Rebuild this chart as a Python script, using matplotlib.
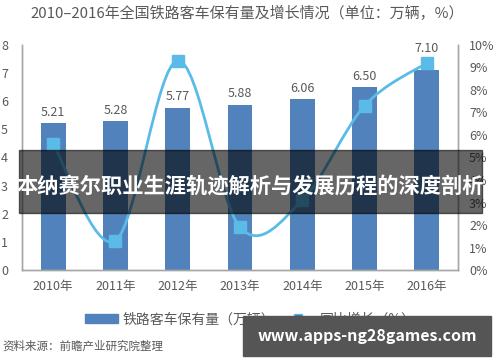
import matplotlib.pyplot as plt
from matplotlib.path import Path
from matplotlib.patches import PathPatch, Rectangle
from matplotlib.lines import Line2D
import numpy as np

plt.rcParams['font.family'] = ['Noto Sans CJK SC', 'DejaVu Sans']

# datos
years = ['2010年', '2011年', '2012年', '2013年', '2014年', '2015年', '2016年']
stock = [5.21, 5.28, 5.77, 5.88, 6.06, 6.50, 7.10]
growth = [5.6, 1.3, 9.3, 1.9, 3.1, 7.3, 9.2]

bar_color = '#5282bc'
line_color = '#5bbbe8'
gray = '#595959'

fig = plt.figure(figsize=(5, 3.62), dpi=100)
ax = fig.add_axes([0.044, 0.254, 0.872, 0.622])
ax2 = ax.twinx()

x = np.arange(len(years))
ax.bar(x, stock, width=0.4, color=bar_color, zorder=2)
for xi, v in zip(x, stock):
    # la última etiqueta va más arriba para no chocar con el marcador
    off = 0.55 if xi == len(stock) - 1 else 0.15
    ax.text(xi, v + off, f'{v:.2f}', ha='center', va='bottom', fontsize=9, color=gray)

ax.set_xlim(-0.5, 6.5)
ax.set_ylim(0, 8)
ax.set_yticks(range(0, 9))
ax.set_xticks(x)
ax.set_xticklabels(years)
ax.tick_params(axis='y', length=0, labelsize=9, labelcolor=gray, pad=10)
ax.tick_params(axis='x', length=0, labelsize=9, labelcolor=gray, pad=7)

ax2.set_ylim(0, 10)
ax2.set_yticks(range(0, 11))
ax2.set_yticklabels([f'{i}%' for i in range(0, 11)])
ax2.tick_params(axis='y', length=0, labelsize=9, labelcolor=gray, pad=8)

for a in (ax, ax2):
    a.spines['top'].set_visible(False)
    for s in ('left', 'right', 'bottom'):
        a.spines[s].set_color('#a6a6a6')
        a.spines[s].set_linewidth(1)

# curva suavizada (bezier entre los puntos)
pts = list(zip(x, growth))
verts = [pts[0]]
codes = [Path.MOVETO]
for i in range(len(pts) - 1):
    p0 = pts[i - 1] if i > 0 else pts[i]
    p1 = pts[i]
    p2 = pts[i + 1]
    p3 = pts[i + 2] if i + 2 < len(pts) else pts[i + 1]
    c1 = (p1[0] + (p2[0] - p0[0]) / 6, p1[1] + (p2[1] - p0[1]) / 6)
    c2 = (p2[0] - (p3[0] - p1[0]) / 6, p2[1] - (p3[1] - p1[1]) / 6)
    verts += [c1, c2, p2]
    codes += [Path.CURVE4] * 3
ax2.add_patch(PathPatch(Path(verts, codes), fill=False, edgecolor=line_color, lw=2, zorder=3))
ax2.plot(x, growth, ls='none', marker='s', ms=8, color=line_color, zorder=4)

fig.text(0.495, 0.963, '2010–2016年全国铁路客车保有量及增长情况（单位：万辆，%）',
         ha='center', va='center', fontsize=10.8, color=gray)

# leyenda
handles = [Rectangle((0, 0), 1, 1, color=bar_color),
           Line2D([], [], color=line_color, marker='s', ms=6, lw=2, markerfacecolor='#2f6ea8')]
fig.legend(handles, ['铁路客车保有量（万辆）', '同比增长（%）'], loc='center', bbox_to_anchor=(0.5, 0.118),
           ncol=2, frameon=False, fontsize=10, labelcolor=gray, handlelength=2.4, columnspacing=0.5,
           handletextpad=0.3)

fig.text(0.004, 0.045, '资料来源：前瞻产业研究院整理', ha='left', va='center', fontsize=8.3, color=gray)

# banda superpuesta
fig.patches.append(Rectangle((0.038, 0.412), 0.926, 0.174, transform=fig.transFigure,
                             color='black', alpha=0.6, zorder=10))
fig.text(0.5, 0.487, '本纳赛尔职业生涯轨迹解析与发展历程的深度剖析', ha='center', va='center',
         fontsize=15.3, color='white', fontweight='bold', zorder=11)

# marca de agua
fig.patches.append(Rectangle((0.486, 0.017), 0.496, 0.11, transform=fig.transFigure,
                             color='#555555', zorder=10))
fig.text(0.734, 0.072, 'www.apps-ng28games.com', ha='center', va='center', fontsize=11.5,
         color='white', fontweight='bold', zorder=11)

fig.savefig('out.png', dpi=100)
